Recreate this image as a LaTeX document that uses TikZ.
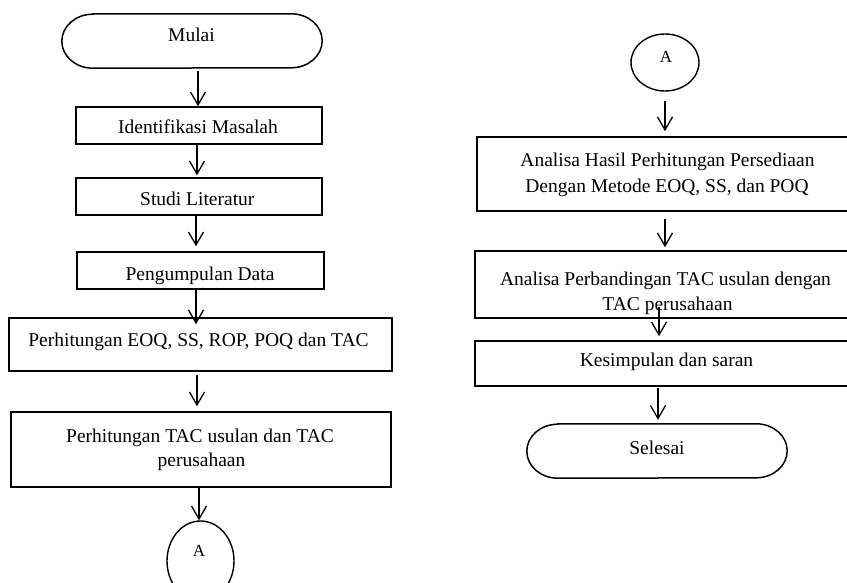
\documentclass[tikz,border=0pt]{standalone}
\usepackage{fontspec}
\setmainfont{Liberation Serif}
\usetikzlibrary{arrows.meta,shapes.geometric}
\begin{document}
\begin{tikzpicture}[x=1pt,y=-1pt,
  line/.style={line width=1.5pt},
  boxnode/.style={draw, line width=1.5pt, rectangle, inner sep=0pt},
  termnode/.style={draw=none, rectangle, inner sep=0pt, minimum width=260pt, minimum height=54pt},
  connnode/.style={draw, line width=1.4pt, ellipse, inner sep=0pt},
  txt/.style={anchor=base, inner sep=0pt, font=\fontsize{19.5}{25}\selectfont},
  atxt/.style={anchor=base, inner sep=0pt, font=\fontsize{17}{20}\selectfont},
  arr/.style={line width=1.3pt, -{Straight Barb[length=13pt,width=15pt,line width=1.3pt]}}]
\path[use as bounding box, clip] (0,0) rectangle (847,583);
\fill[white] (0,0) rectangle (847,583);

% ---------- left column ----------
\node[termnode] (mulai) at (192,41) {};
\draw[line] ([xshift=31pt]mulai.north west) -- ([xshift=-31pt]mulai.north east)
  arc[start angle=90, end angle=-90, x radius=31pt, y radius=27pt]
  -- ([xshift=31pt]mulai.south west)
  arc[start angle=270, end angle=90, x radius=31pt, y radius=27pt] -- cycle;
\node[txt] (tmulai) at (191.5,42) {Mulai};

\node[boxnode, minimum width=246pt, minimum height=37pt] (ident) at (199,125.5) {};
\node[txt] (tident) at (198,134) {Identifikasi Masalah};

\node[boxnode, minimum width=246pt, minimum height=37pt] (studi) at (199,196.5) {};
\node[txt] (tstudi) at (197.3,206) {Studi Literatur};

\node[boxnode, minimum width=247pt, minimum height=37pt] (kumpul) at (200.5,270.5) {};
\node[txt] (tkumpul) at (200,280) {Pengumpulan Data};

\node[boxnode, minimum width=383pt, minimum height=53pt] (eoq) at (200.5,344.5) {};
\node[txt] (teoq) at (198.5,346) {Perhitungan EOQ, SS, ROP, POQ dan TAC};

\node[boxnode, minimum width=380pt, minimum height=75pt] (tac) at (201,449.5) {};
\node[txt] (ttac1) at (200,442.5) {Perhitungan TAC usulan dan TAC};
\node[txt] (ttac2) at (201.5,466.5) {perusahaan};

\node[connnode, minimum width=67pt, minimum height=80pt] (aleft) at (200.5,561) {};
\node[atxt] (taleft) at (199,556) {A};

% ---------- right column ----------
\node[connnode, minimum width=68pt, minimum height=57pt] (aright) at (665,62.5) {};
\node[atxt] (taright) at (666,63) {A};

\node[boxnode, minimum width=380pt, minimum height=74pt] (hasil) at (667,174) {};
\node[txt] (thasil1) at (667.5,167) {Analisa Hasil Perhitungan Persediaan};
\node[txt] (thasil2) at (667,193) {Dengan Metode EOQ, SS, dan POQ};

\node[boxnode, minimum width=382pt, minimum height=67pt] (banding) at (666,284.5) {};
\node[txt] (tbanding1) at (665.5,285.7) {Analisa Perbandingan TAC usulan dengan};
\node[txt] (tbanding2) at (667.5,310.7) {TAC perusahaan};

\node[boxnode, minimum width=382pt, minimum height=45pt] (simpul) at (666,363.5) {};
\node[txt] (tsimpul) at (666.5,366.7) {Kesimpulan dan saran};

\node[termnode] (selesai) at (657,451) {};
\draw[line] ([xshift=31pt]selesai.north west) -- ([xshift=-31pt]selesai.north east)
  arc[start angle=90, end angle=-90, x radius=31pt, y radius=27pt]
  -- ([xshift=31pt]selesai.south west)
  arc[start angle=270, end angle=90, x radius=31pt, y radius=27pt] -- cycle;
\node[txt] (tselesai) at (657,454) {Selesai};

% ---------- connectors ----------
\coordinate (c1) at (198,0);
\coordinate (c2) at (197,0);
\coordinate (c3) at (196,0);
\coordinate (c4) at (199,0);
\coordinate (c5) at (665,0);
\coordinate (c6) at (659,0);
\coordinate (c7) at (658,0);

\draw[arr, shorten <=3pt] (mulai.south -| c1) -- (ident.north -| c1);
\draw[arr, shorten >=2pt] (ident.south -| c2) -- (studi.north -| c2);
\draw[arr, shorten >=5pt] (studi.south -| c3) -- (kumpul.north -| c3);
\draw[arr, shorten >=-7pt] (kumpul.south -| c3) -- (eoq.north -| c3);
\draw[arr, shorten <=3pt, shorten >=5pt] (eoq.south -| c2) -- (tac.north -| c2);
\draw[arr] (tac.south -| c4) -- (aleft.north -| c4);

\draw[arr, shorten <=9pt, shorten >=5pt] (aright.south -| c5) -- (hasil.north -| c5);
\draw[arr, shorten <=7pt, shorten >=3pt] (hasil.south -| c5) -- (banding.north -| c5);
\draw[arr, shorten <=-12pt, shorten >=4pt] (banding.south -| c6) -- (simpul.north -| c6);
\draw[arr, shorten <=1pt, shorten >=4pt] (simpul.south -| c7) -- (selesai.north -| c7);
\end{tikzpicture}
\end{document}
